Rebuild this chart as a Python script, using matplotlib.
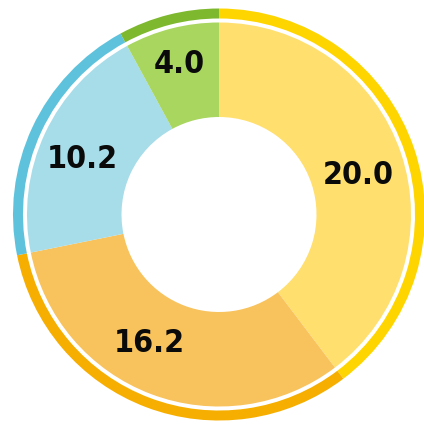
import matplotlib
matplotlib.use("Agg")
import matplotlib.pyplot as plt
import numpy as np

values = [20.0, 16.2, 10.2, 4.0]
labels = ["20.0", "16.2", "10.2", "4.0"]
fill_colors = ["#FFDF6E", "#F8C25C", "#A7DCE9", "#A8D65E"]
ring_colors = ["#FFD500", "#F6AE00", "#5EC2DC", "#7DB82F"]

fig = plt.figure(figsize=(4.24, 4.26), dpi=100)
ax = fig.add_axes([0, 0, 1, 1])

cx, cy = 219, 211.5
R_out, R_ring_w = 206, 10
R_fill, hole = 192, 97.5

ring, _ = ax.pie(values, colors=ring_colors, startangle=90, counterclock=False,
                 radius=R_out, center=(cx, cy), frame=True,
                 wedgeprops=dict(width=R_ring_w, linewidth=0))
wedges, _ = ax.pie(values, colors=fill_colors, startangle=90, counterclock=False,
                   radius=R_fill, center=(cx, cy), frame=True,
                   wedgeprops=dict(width=R_fill - hole, linewidth=0))
ax.set_xlim(0, 424)
ax.set_ylim(0, 426)
ax.set_aspect("equal")
ax.axis("off")

label_r = [144.5, 146, 147, 155]
angle_shift = [-2.9, -7.6, 3.0, 0.7]
for w, lab, r, sh in zip(wedges, labels, label_r, angle_shift):
    mid = np.deg2rad((w.theta1 + w.theta2) / 2 + sh)
    ax.text(cx + r * np.cos(mid), cy + r * np.sin(mid), lab,
            ha="center", va="center", fontsize=23, fontweight="bold",
            fontstretch="condensed", family="DejaVu Sans", color="#0A0A0A")

fig.savefig("out.png", dpi=100)
